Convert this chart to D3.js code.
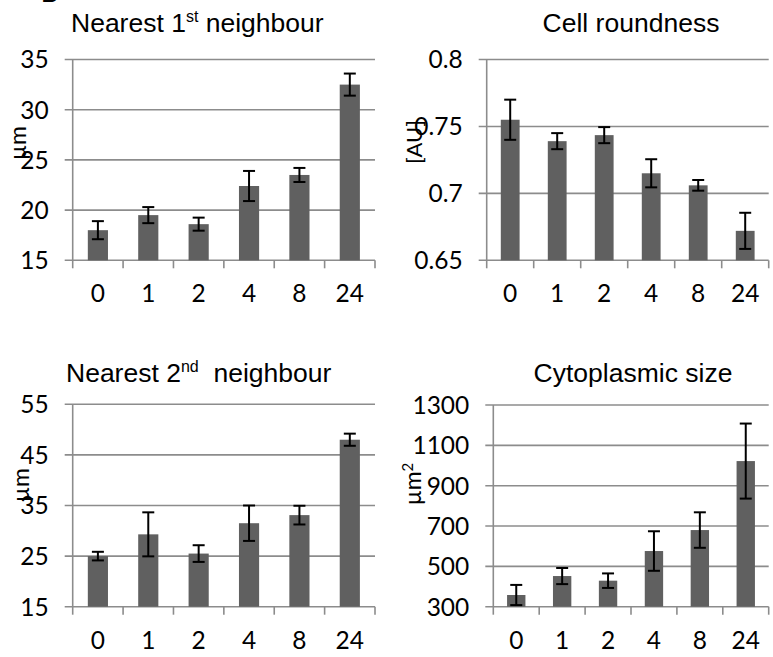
<!DOCTYPE html>
<html>
<head>
<meta charset="utf-8">
<script src="https://cdn.jsdelivr.net/npm/d3@7"></script>
<style>
  html, body { margin: 0; padding: 0; background: #fff; }
  svg { display: block; }
</style>
</head>
<body>
<svg id="chart" width="773" height="657"></svg>
<script>
// Time points (hours)
const hours = ["0", "1", "2", "4", "8", "24"];

// Nearest 1st neighbour distance (µm)
const firstNeighbourMean = [18.0, 19.5, 18.6, 22.4, 23.5, 32.5];
const firstNeighbourErr  = [0.9, 0.8, 0.65, 1.5, 0.7, 1.1];
const firstNeighbourTicks = [15, 20, 25, 30, 35];

// Cell roundness (AU)
const roundnessMean = [0.755, 0.739, 0.7435, 0.715, 0.706, 0.672];
const roundnessErr  = [0.015, 0.006, 0.006, 0.0105, 0.004, 0.0135];
const roundnessTicks = [0.65, 0.7, 0.75, 0.8];

// Nearest 2nd neighbour distance (µm)
const secondNeighbourMean = [25.0, 29.3, 25.5, 31.5, 33.1, 48.0];
const secondNeighbourErr  = [0.85, 4.35, 1.65, 3.5, 1.85, 1.2];
const secondNeighbourTicks = [15, 25, 35, 45, 55];

// Cytoplasmic size (µm²)
const cytoSizeMean = [358, 452, 429, 576, 680, 1022];
const cytoSizeErr  = [50, 40, 36, 98, 88, 186];
const cytoSizeTicks = [300, 500, 700, 900, 1100, 1300];

const svg = d3.select("#chart");
const tickFont = "Lato, 'Open Sans', sans-serif";
const titleFont = "'Liberation Sans', Arial, sans-serif";
const gridColor = "#8c8c8c";
const barColor = "#606060";

// Panel letter, mostly above the top edge
svg.append("text")
  .attr("x", 41).attr("y", 2)
  .attr("font-family", titleFont)
  .attr("font-size", 26)
  .attr("fill", "#000")
  .text("B");

const panels = [
  { title: ["Nearest 1", "st", " neighbour"], titleX: 71, titleY: 31.5, anchor: "start",
    unit: "µm", unitX: 18, unitY: 143,
    means: firstNeighbourMean, errs: firstNeighbourErr, ticks: firstNeighbourTicks,
    left: 72.7, right: 375, top: 59.5, bottom: 260.3 },
  { title: ["Cell roundness"], titleX: 631, titleY: 31.5, anchor: "middle",
    unit: "[AU]", unitX: 414, unitY: 142,
    means: roundnessMean, errs: roundnessErr, ticks: roundnessTicks,
    left: 486.7, right: 768.7, top: 59.5, bottom: 260.3 },
  { title: ["Nearest 2", "nd", "  neighbour"], titleX: 66, titleY: 381.5, anchor: "start",
    unit: "µm", unitX: 21, unitY: 485,
    means: secondNeighbourMean, errs: secondNeighbourErr, ticks: secondNeighbourTicks,
    left: 72.7, right: 375, top: 404.3, bottom: 606.7 },
  { title: ["Cytoplasmic size"], titleX: 633, titleY: 381.5, anchor: "middle",
    unit: "µm", unitSup: "2", unitX: 413, unitY: 484,
    means: cytoSizeMean, errs: cytoSizeErr, ticks: cytoSizeTicks,
    left: 493.3, right: 768.7, top: 405, bottom: 606.7 }
];

panels.forEach(p => {
  const g = svg.append("g");
  const lo = p.ticks[0], hi = p.ticks[p.ticks.length - 1];

  const y = d3.scaleLinear().domain([lo, hi]).range([p.bottom, p.top]);
  const x = d3.scaleBand().domain(hours).range([p.left, p.right])
    .paddingInner(0.6).paddingOuter(0.3);
  const step = x.step();

  // Horizontal gridlines with small outer ticks on the value axis
  g.selectAll(".grid").data(p.ticks).join("line")
    .attr("x1", p.left - 8).attr("x2", p.right)
    .attr("y1", d => y(d)).attr("y2", d => y(d))
    .attr("stroke", gridColor).attr("stroke-width", 1.6);

  // Value axis line
  g.append("line")
    .attr("x1", p.left).attr("x2", p.left)
    .attr("y1", p.top).attr("y2", p.bottom)
    .attr("stroke", gridColor).attr("stroke-width", 1.6);

  // Category boundary ticks below the axis
  const bounds = hours.map(h => x(h) - step * 0.3).concat([p.right]);
  g.selectAll(".xtick").data(bounds).join("line")
    .attr("x1", d => d).attr("x2", d => d)
    .attr("y1", p.bottom).attr("y2", p.bottom + 8)
    .attr("stroke", gridColor).attr("stroke-width", 1.6);

  // Value tick labels
  g.selectAll(".ylab").data(p.ticks).join("text")
    .attr("x", p.left - 24).attr("y", d => y(d))
    .attr("dy", "0.36em")
    .attr("text-anchor", "end")
    .attr("font-family", tickFont).attr("font-size", 24.5)
    .attr("fill", "#000")
    .text(d => d);

  // Category labels
  g.selectAll(".xlab").data(hours).join("text")
    .attr("x", d => x(d) + x.bandwidth() / 2)
    .attr("y", p.bottom + 42)
    .attr("text-anchor", "middle")
    .attr("font-family", tickFont).attr("font-size", 24.5)
    .attr("fill", "#000")
    .text(d => d);

  // Bars
  g.selectAll(".bar").data(hours).join("rect")
    .attr("x", d => x(d))
    .attr("width", x.bandwidth())
    .attr("y", (d, i) => y(p.means[i]))
    .attr("height", (d, i) => p.bottom - y(p.means[i]))
    .attr("fill", barColor);

  // Error bars
  const eb = g.selectAll(".err").data(hours).join("g")
    .attr("stroke", "#000").attr("stroke-width", 2);
  const cx = d => x(d) + x.bandwidth() / 2;
  eb.append("line")
    .attr("x1", cx).attr("x2", cx)
    .attr("y1", (d, i) => y(p.means[i] + p.errs[i]))
    .attr("y2", (d, i) => y(p.means[i] - p.errs[i]));
  eb.append("line")
    .attr("x1", d => cx(d) - 6).attr("x2", d => cx(d) + 6)
    .attr("y1", (d, i) => y(p.means[i] + p.errs[i]))
    .attr("y2", (d, i) => y(p.means[i] + p.errs[i]));
  eb.append("line")
    .attr("x1", d => cx(d) - 6).attr("x2", d => cx(d) + 6)
    .attr("y1", (d, i) => y(p.means[i] - p.errs[i]))
    .attr("y2", (d, i) => y(p.means[i] - p.errs[i]));

  // Panel title (with optional superscript)
  const t = g.append("text")
    .attr("x", p.titleX).attr("y", p.titleY)
    .attr("text-anchor", p.anchor)
    .attr("font-family", titleFont).attr("font-size", 26.5)
    .attr("fill", "#000")
    .style("white-space", "pre");
  t.append("tspan").text(p.title[0]);
  if (p.title.length > 1) {
    t.append("tspan").attr("font-size", 16).attr("dy", -10).text(p.title[1]);
    t.append("tspan").attr("dy", 10).text(p.title[2]);
  }

  // Rotated unit label
  const u = g.append("text")
    .attr("transform", `translate(${p.unitX},${p.unitY}) rotate(-90)`)
    .attr("text-anchor", "middle")
    .attr("dy", "0.35em")
    .attr("font-family", tickFont).attr("font-size", p.unit === "[AU]" ? 22 : 23)
    .attr("fill", "#000");
  u.append("tspan").text(p.unit);
  if (p.unitSup) u.append("tspan").attr("font-size", 15).attr("dy", -8).text(p.unitSup);
});
</script>
</body>
</html>
